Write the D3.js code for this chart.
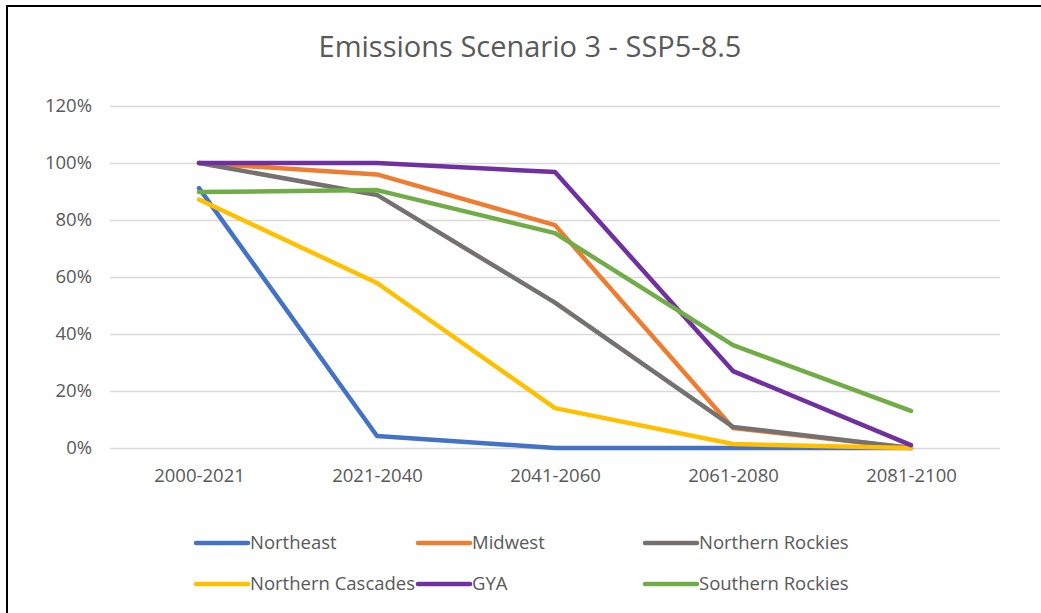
<!DOCTYPE html>
<html>
<head>
<meta charset="utf-8">
<script src="https://cdn.jsdelivr.net/npm/d3@7"></script>
<style>
  body { margin: 0; background: #fff; }
  svg { display: block; font-family: "Open Sans", "Noto Sans", sans-serif; }
</style>
</head>
<body>
<div id="chart"></div>
<script>
// periods on the x axis
const periods = ["2000-2021", "2021-2040", "2041-2060", "2061-2080", "2081-2100"];

// share of habitat per region
const northeast = [0.912, 0.042, 0, 0, 0];
const midwest = [1.0, 0.96, 0.782, 0.07, 0];
const northernRockies = [1.0, 0.888, 0.51, 0.074, 0];
const northernCascades = [0.872, 0.579, 0.14, 0.014, 0];
const gya = [1.0, 1.0, 0.968, 0.27, 0.01];
const southernRockies = [0.898, 0.905, 0.754, 0.361, 0.13];

const yTicks = [0, 0.2, 0.4, 0.6, 0.8, 1.0, 1.2];

const series = [
  { name: "Northeast", values: northeast, color: "#4472C4" },
  { name: "Midwest", values: midwest, color: "#ED7D31" },
  { name: "Northern Rockies", values: northernRockies, color: "#767171" },
  { name: "Northern Cascades", values: northernCascades, color: "#FFC000" },
  { name: "GYA", values: gya, color: "#7030A0" },
  { name: "Southern Rockies", values: southernRockies, color: "#70AD47" }
];

const W = 1041, H = 613;
const plot = { left: 110, right: 1000, top: 106, bottom: 448 };

const svg = d3.select("#chart").append("svg")
  .attr("width", W)
  .attr("height", H);

// frame (only top and left edges show in the shot)
svg.append("line").attr("x1", 6).attr("y1", 6).attr("x2", W).attr("y2", 6)
  .attr("stroke", "#000").attr("stroke-width", 2);
svg.append("line").attr("x1", 7).attr("y1", 5).attr("x2", 7).attr("y2", H)
  .attr("stroke", "#000").attr("stroke-width", 2);

svg.append("text")
  .attr("x", 530).attr("y", 57)
  .attr("text-anchor", "middle")
  .attr("fill", "#595959")
  .style("font-size", "29px")
  .text("Emissions Scenario 3 - SSP5-8.5");

let x = d3.scalePoint()
  .domain(periods)
  .range([plot.left, plot.right])
  .padding(0.5);

let y = d3.scaleLinear()
  .domain([0, 1.2])
  .range([plot.bottom, plot.top]);

// gridlines + y labels
svg.append("g")
  .attr("transform", "translate(" + plot.left + ",0)")
  .call(d3.axisLeft(y).tickValues(yTicks)
    .tickSize(-(plot.right - plot.left))
    .tickPadding(18)
    .tickFormat(d3.format(".0%")))
  .call(g => g.select(".domain").remove())
  .call(g => g.selectAll(".tick line").attr("stroke", "#D9D9D9").attr("stroke-width", 1.3))
  .call(g => g.selectAll(".tick text").attr("fill", "#595959").style("font-size", "18.5px")
    .style("font-family", "'Open Sans', sans-serif"));

// x labels
svg.append("g")
  .attr("transform", "translate(0," + plot.bottom + ")")
  .call(d3.axisBottom(x).tickSize(0).tickPadding(21))
  .call(g => g.select(".domain").remove())
  .call(g => g.selectAll(".tick text").attr("fill", "#595959").style("font-size", "18.5px")
    .style("font-family", "'Open Sans', sans-serif"));

const line = d3.line()
  .x((d, i) => x(periods[i]))
  .y(d => y(d));

svg.append("g").selectAll("path")
  .data(series)
  .enter()
  .append("path")
  .attr("d", d => line(d.values))
  .attr("fill", "none")
  .attr("stroke", d => d.color)
  .attr("stroke-width", 4.5)
  .attr("stroke-linecap", "round")
  .attr("stroke-linejoin", "round");

// legend, 3 columns x 2 rows
const legCols = [196, 418, 645];
const legRows = [543, 584];

let leg = svg.append("g").selectAll("g")
  .data(series)
  .enter()
  .append("g")
  .attr("transform", (d, i) => "translate(" + legCols[i % 3] + "," + legRows[Math.floor(i / 3)] + ")");

leg.append("line")
  .attr("x1", 0).attr("x2", 52)
  .attr("stroke", d => d.color)
  .attr("stroke-width", 4.5)
  .attr("stroke-linecap", "round");

leg.append("text")
  .attr("x", 54)
  .attr("dy", "0.35em")
  .attr("fill", "#595959")
  .style("font-size", "18.5px")
  .text(d => d.name);
</script>
</body>
</html>
